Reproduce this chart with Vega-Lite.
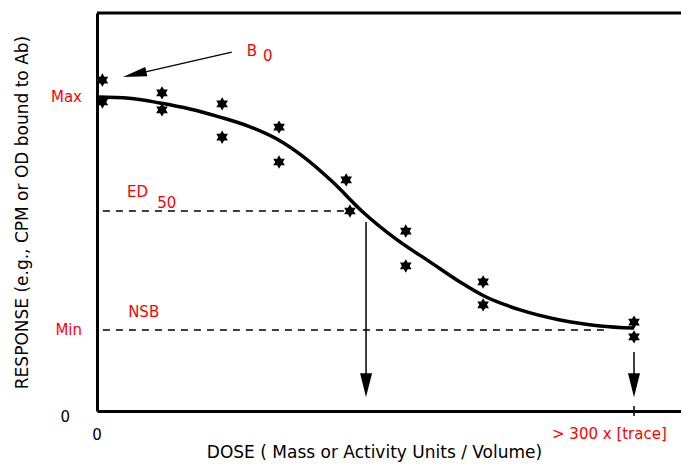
{
  "$schema": "https://vega.github.io/schema/vega-lite/v6.json",
  "width": 584,
  "height": 398,
  "autosize": {"type": "none"},
  "padding": {"left": 97, "top": 13, "right": 0, "bottom": 57},
  "background": "white",
  "config": {"view": {"stroke": null}, "font": "DejaVu Sans"},
  "datasets": {
    "curve": [
      {"x": 0, "y": 100}, {"x": 0.6, "y": 99.6}, {"x": 1.17, "y": 98.1}, {"x": 1.73, "y": 96.2},
      {"x": 2.29, "y": 93.6}, {"x": 2.85, "y": 90.5}, {"x": 3.35, "y": 86.6}, {"x": 3.87, "y": 80.6},
      {"x": 4.39, "y": 72.9}, {"x": 4.95, "y": 63.4}, {"x": 5.59, "y": 54.5}, {"x": 6.2, "y": 47.5},
      {"x": 6.76, "y": 41.1}, {"x": 7.19, "y": 36.8}, {"x": 7.88, "y": 32.2}, {"x": 8.62, "y": 29.0},
      {"x": 9.37, "y": 27.1}, {"x": 10.0, "y": 26.4}
    ],
    "stars": [
      {"x": 0.1, "y": 105.4}, {"x": 0.1, "y": 98.4},
      {"x": 1.21, "y": 101.3}, {"x": 1.21, "y": 95.9},
      {"x": 2.33, "y": 97.8}, {"x": 2.33, "y": 87.2},
      {"x": 3.39, "y": 90.4}, {"x": 3.39, "y": 79.3},
      {"x": 4.64, "y": 73.6}, {"x": 4.71, "y": 63.7},
      {"x": 5.75, "y": 57.3}, {"x": 5.75, "y": 46.2},
      {"x": 7.19, "y": 41.1}, {"x": 7.19, "y": 33.8},
      {"x": 10.0, "y": 28.3}, {"x": 10.0, "y": 23.6}
    ],
    "dashed": [
      {"x": 0.11, "x2": 4.62, "y": 63.7},
      {"x": 0.11, "x2": 9.5, "y": 25.8}
    ],
    "shafts": [
      {"x": 5.01, "y": 60.2, "y2": 8.3},
      {"x": 10.0, "y": 18.8, "y2": 8.3},
      {"x": 10.0, "y": 1.6, "y2": -1.6}
    ],
    "heads": [{"x": 5.01, "y": 8.2}, {"x": 10.0, "y": 8.2}],
    "b0shaft": [{"x": 2.51, "y": 114.3, "x2": 0.7, "y2": 107.2}],
    "b0head": [{"x": 0.7, "y": 107.2}],
    "top": [{"x": 0, "x2": 10.875, "y": 126.75}],
    "inlabels": [
      {"label": "B", "x": 2.79, "y": 114.6},
      {"label": "0", "x": 3.09, "y": 113.1},
      {"label": "ED", "x": 0.56, "y": 69.7},
      {"label": "50", "x": 1.12, "y": 66.2},
      {"label": "NSB", "x": 0.58, "y": 31.5}
    ],
    "ylabels": [{"label": "Max", "x": 0, "y": 100}, {"label": "Min", "x": 0, "y": 25.8}],
    "zeroy": [{"label": "0", "x": 0, "y": 0}],
    "zerox": [{"label": "0", "x": 0, "y": 0}],
    "trace": [{"label": "> 300 x [trace]", "x": 10, "y": 0}]
  },
  "encoding": {
    "x": {
      "field": "x", "type": "quantitative",
      "scale": {"domain": [0, 10.875], "nice": false, "zero": false},
      "axis": {
        "title": "DOSE ( Mass or Activity Units / Volume)",
        "labels": false, "ticks": false, "grid": false,
        "domain": true, "domainWidth": 3, "domainColor": "black",
        "titleFont": "DejaVu Sans", "titleFontSize": 17, "titleFontWeight": "normal",
        "titleColor": "black", "titleX": 277, "titleAlign": "center", "titlePadding": 33
      }
    },
    "y": {
      "field": "y", "type": "quantitative",
      "scale": {"domain": [0, 126.75], "nice": false, "zero": false},
      "axis": {
        "title": "RESPONSE (e.g., CPM or OD bound to Ab)",
        "labels": false, "ticks": false, "grid": false,
        "domain": true, "domainWidth": 3, "domainColor": "black",
        "titleFont": "DejaVu Sans", "titleFontSize": 17, "titleFontWeight": "normal",
        "titleColor": "black", "titlePadding": 66
      }
    }
  },
  "layer": [
    {"data": {"name": "top"}, "mark": {"type": "rule", "strokeWidth": 3, "color": "black"},
     "encoding": {"x2": {"field": "x2"}}},
    {"data": {"name": "dashed"}, "mark": {"type": "rule", "strokeWidth": 1.4, "color": "black", "strokeDash": [7, 6]},
     "encoding": {"x2": {"field": "x2"}}},
    {"data": {"name": "shafts"}, "mark": {"type": "rule", "strokeWidth": 1.5, "color": "black"},
     "encoding": {"y2": {"field": "y2"}}},
    {"data": {"name": "heads"}, "mark": {"type": "point", "shape": "M-0.5,-1L0.5,-1L0.15,0.4L0,1L-0.15,0.4Z", "size": 576, "filled": true, "color": "black", "opacity": 1}},
    {"data": {"name": "b0shaft"}, "mark": {"type": "rule", "strokeWidth": 1.3, "color": "black"},
     "encoding": {"x2": {"field": "x2"}, "y2": {"field": "y2"}}},
    {"data": {"name": "b0head"}, "mark": {"type": "point", "shape": "M-1,0L1,-0.4L1,0.4Z", "size": 576, "angle": -13, "filled": true, "color": "black", "opacity": 1}},
    {"data": {"name": "curve"}, "mark": {"type": "line", "strokeWidth": 3.5, "color": "black", "interpolate": "monotone"}},
    {"data": {"name": "stars"}, "mark": {"type": "point", "shape": "M0,-1L0.289,-0.5L0.866,-0.5L0.577,0L0.866,0.5L0.289,0.5L0,1L-0.289,0.5L-0.866,0.5L-0.577,0L-0.866,-0.5L-0.289,-0.5Z", "size": 180, "filled": true, "color": "black", "opacity": 1}},
    {"data": {"name": "inlabels"}, "mark": {"type": "text", "align": "left", "baseline": "middle", "font": "DejaVu Sans", "fontSize": 15, "color": "#ff0000"},
     "encoding": {"text": {"field": "label"}}},
    {"data": {"name": "ylabels"}, "mark": {"type": "text", "align": "right", "baseline": "middle", "dx": -15, "font": "DejaVu Sans", "fontSize": 15, "color": "#ff0000"},
     "encoding": {"text": {"field": "label"}}},
    {"data": {"name": "zeroy"}, "mark": {"type": "text", "align": "right", "baseline": "middle", "dx": -27, "dy": 6, "font": "DejaVu Sans", "fontSize": 15, "color": "black"},
     "encoding": {"text": {"field": "label"}}},
    {"data": {"name": "zerox"}, "mark": {"type": "text", "align": "center", "baseline": "middle", "dy": 24, "font": "DejaVu Sans", "fontSize": 15, "color": "black"},
     "encoding": {"text": {"field": "label"}}},
    {"data": {"name": "trace"}, "mark": {"type": "text", "align": "left", "baseline": "middle", "dx": -82, "dy": 23, "font": "DejaVu Sans", "fontSize": 15, "color": "#ff0000"},
     "encoding": {"text": {"field": "label"}}}
  ]
}
